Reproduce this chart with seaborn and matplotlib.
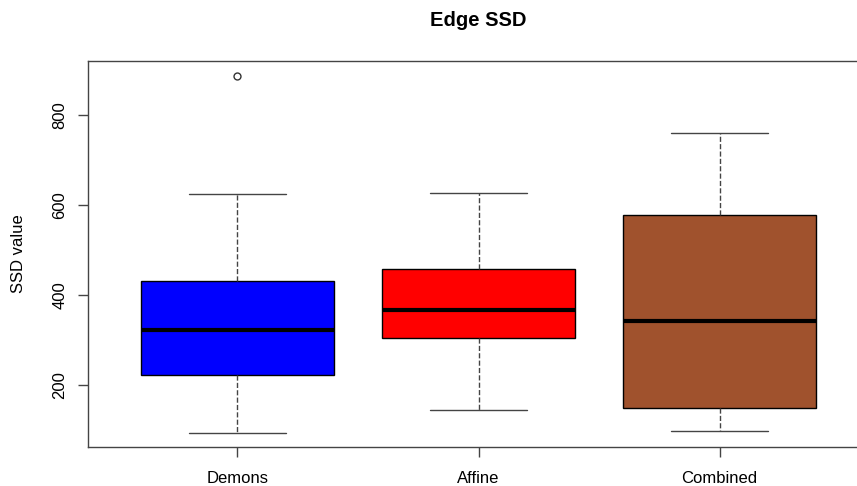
import numpy as np
import pandas as pd
import matplotlib
matplotlib.use("Agg")
import matplotlib.pyplot as plt
import seaborn as sns

sns.set_style("white")
plt.rcParams['font.family'] = ['Liberation Sans', 'DejaVu Sans']
plt.rcParams['text.color'] = 'black'
plt.rcParams['axes.labelcolor'] = 'black'
plt.rcParams['xtick.color'] = 'black'
plt.rcParams['ytick.color'] = 'black'

# SSD values per method
methods = ['Demons', 'Affine', 'Combined']
demons = [93, 160, 222, 270, 322, 380, 431, 624, 887]
affine = [144, 250, 304, 340, 367, 420, 458, 540, 627]
combined = [96, 120, 147, 250, 342, 480, 578, 680, 760]
colors = ['#0000FF', '#FF0000', '#A0522D']

data = pd.DataFrame({
    'method': np.repeat(methods, [len(demons), len(affine), len(combined)]),
    'ssd': demons + affine + combined,
})

fig = plt.figure(figsize=(8.57, 4.86), dpi=100)
ax = fig.add_axes([88 / 857, 1 - 447 / 486, (869 - 88) / 857, (447 - 61) / 486])

sns.boxplot(data=data, x='method', y='ssd', hue='method', order=methods,
            palette=colors, saturation=1, width=0.8, whis=1.5, legend=False,
            linecolor='black', linewidth=1, ax=ax,
            medianprops=dict(linewidth=3, color='black'),
            whiskerprops=dict(linestyle='--', color='#444444'),
            capprops=dict(color='#444444'),
            flierprops=dict(marker='o', markerfacecolor='none',
                            markeredgecolor='#333333', markersize=5))

ax.set_xlim(-0.62, 2.62)
ax.set_ylim(61, 921)
ax.set_yticks([200, 400, 600, 800])
ax.set_yticklabels(['200', '400', '600', '800'], rotation=90, va='center')
ax.tick_params(axis='both', direction='out', length=7, width=1, color='#444444',
               labelsize=12, bottom=True, left=True)
ax.tick_params(axis='x', pad=10)
ax.tick_params(axis='y', pad=8)
for s in ax.spines.values():
    s.set_color('#444444')
    s.set_linewidth(1)

ax.set_xlabel('')
ax.set_ylabel('SSD value', fontsize=12)
ax.yaxis.set_label_coords(-62 / 781, 0.5)
fig.suptitle('Edge SSD', fontsize=14.5, fontweight='bold', x=478 / 857, y=1 - 11 / 486, va='top')

plt.savefig('out.png', dpi=100)
